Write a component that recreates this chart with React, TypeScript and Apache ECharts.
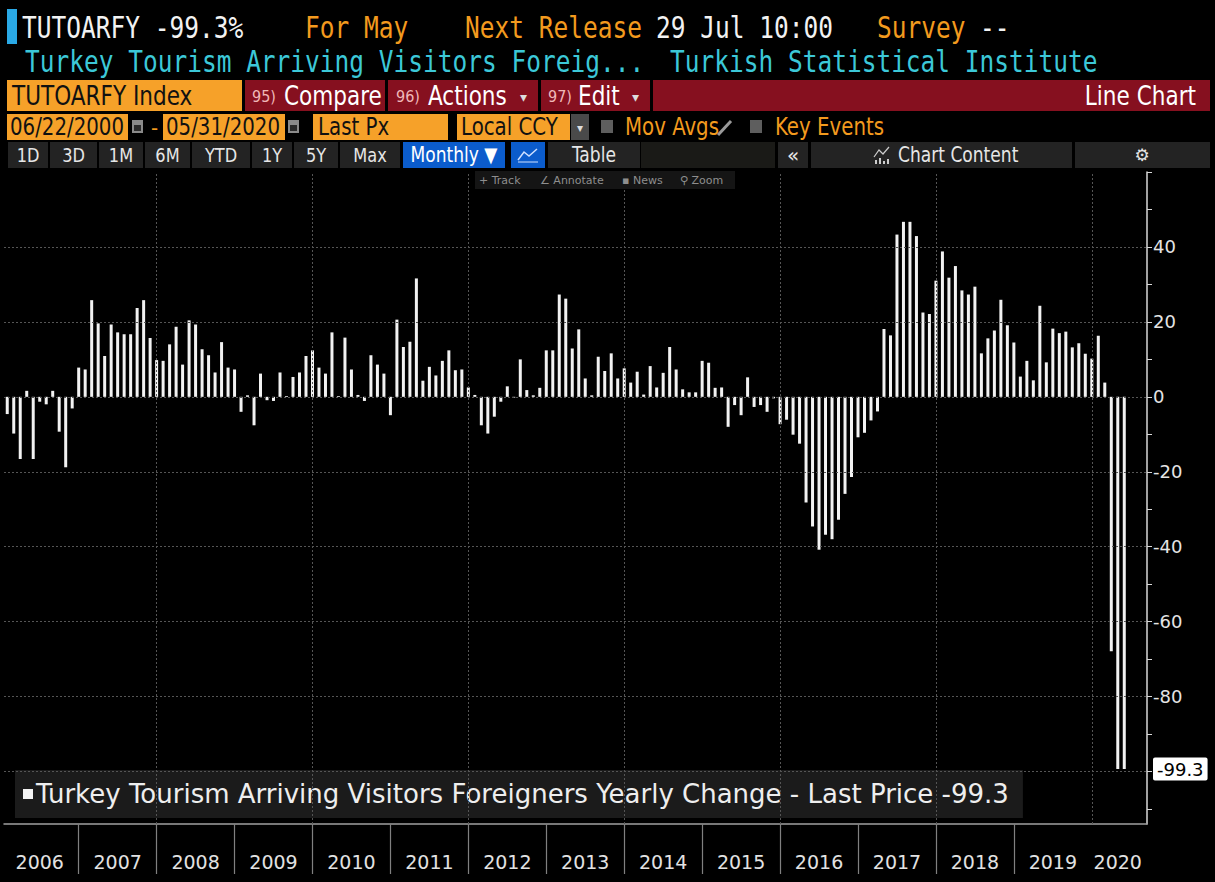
import React, { useEffect, useRef } from 'react';
import * as echarts from 'echarts';

// ---------- data ----------
const years = ['2006', '2007', '2008', '2009', '2010', '2011', '2012', '2013', '2014', '2015', '2016', '2017', '2018', '2019', '2020'];
const v2006 = [-4.6, -9.8, -16.6, 1.6, -16.6, -1.3, -2.0, 1.6, -9.3, -18.8, -3.1, 7.8];
const v2007 = [7.3, 25.8, 19.6, 10.9, 19.3, 17.2, 16.7, 16.7, 23.7, 25.8, 15.7, 9.8];
const v2008 = [9.6, 14.0, 18.7, 8.6, 20.4, 19.3, 12.7, 11.1, 6.5, 14.6, 7.8, 7.3];
const v2009 = [-4.0, 0.4, -7.6, 6.2, -0.9, -1.1, 6.5, 0.2, 5.3, 6.5, 10.9, 12.4];
const v2010 = [7.8, 6.2, 17.2, 0.2, 15.8, 7.3, 0.5, -1.1, 11.1, 8.6, 6.2, -4.9];
const v2011 = [20.6, 13.3, 14.7, 31.6, 4.3, 8.0, 5.7, 9.6, 12.4, 7.1, 7.3, 2.5];
const v2012 = [0.5, -7.6, -9.8, -5.3, -1.3, 2.8, -0.2, 10.0, 1.8, 0.4, 2.4, 12.4];
const v2013 = [12.4, 27.3, 26.2, 12.9, 18.0, 4.9, 0.4, 10.7, 6.9, 11.6, 4.9, 7.6];
const v2014 = [3.8, 6.7, 0.6, 8.2, 2.5, 6.4, 13.3, 7.3, 2.0, 1.2, 1.2, 9.6];
const v2015 = [9.1, 2.4, 2.5, -8.0, -2.2, -4.9, 5.2, -2.7, -2.2, -4.0, -0.4, -7.3];
const v2016 = [-6.1, -10.1, -12.5, -28.2, -34.6, -40.8, -36.8, -38.0, -32.8, -25.9, -21.4, -10.8];
const v2017 = [-9.6, -6.3, -3.9, 18.1, 16.4, 43.3, 46.7, 46.7, 42.9, 22.5, 22.1, 31.0];
const v2018 = [38.8, 31.8, 34.9, 28.4, 27.3, 29.4, 11.6, 15.6, 17.7, 25.9, 19.1, 14.5];
const v2019 = [5.4, 9.6, 4.4, 24.3, 9.2, 18.2, 17.0, 17.4, 13.2, 14.3, 11.5, 10.2];
const v2020 = [16.3, 3.8, -67.9, -99.3, -99.3];
const yearValues = [v2006, v2007, v2008, v2009, v2010, v2011, v2012, v2013, v2014, v2015, v2016, v2017, v2018, v2019, v2020];

const seriesName = 'Turkey Tourism Arriving Visitors Foreigners Yearly Change - Last Price -99.3';
const yLabelValues = [40, 20, 0, -20, -40, -60, -80];
const lastValue = -99.3;
const yGridValues = [40, 20, 0, -20, -40, -60, -80, -100];
const yTickValues = [60, 50, 40, 30, 20, 10, 0, -10, -20, -30, -40, -50, -60, -70, -80, -90, -100, -110];
const gridYears = ['2008', '2010', '2012', '2014', '2016', '2018', '2020'];
const padCategories = [' ', '  ', '   '];

// ---------- derived ----------
const categories: string[] = [];
const values: number[] = [];
yearValues.forEach((arr, yi) => {
  arr.forEach((v, mi) => {
    categories.push(years[yi] + '-' + String(mi + 1).padStart(2, '0'));
    values.push(v);
  });
});
const allCategories = [...categories, ...padCategories];
// year-end (December) entries: bars are stamped at month end
const yearEndIdx = new Set<number>();
categories.forEach((c, i) => { if (c.endsWith('-12')) yearEndIdx.add(i); });
const labelIdx = new Set<number>();
categories.forEach((c, i) => { if (c.endsWith('-06')) labelIdx.add(i); });
labelIdx.add(categories.indexOf('2020-04'));
const vGridCats = gridYears.map((y) => (parseInt(y, 10) - 1) + '-12');

const MONO = '"DejaVu Sans Mono", monospace';
const COND = '"DejaVu Sans Condensed", "Liberation Sans Narrow", "DejaVu Sans", sans-serif';
const UI = '"DejaVu Sans", sans-serif';
const ORANGE = '#f6a129';
const ORANGE_TXT = '#f39a1e';
const CYAN = '#3cc8d8';
const RED = '#86101f';
const BTN = '#232323';

function rect(x: number, y: number, w: number, h: number, fill: string, stroke?: string) {
  return { type: 'rect', silent: true, shape: { x, y, width: w, height: h }, style: { fill, stroke: stroke || 'none', lineWidth: 1 } };
}
function txt(x: number, y: number, t: string, color: string, size: number, family: string, align = 'left', sy = 1) {
  return { type: 'text', silent: true, x, y, scaleY: sy, style: { text: t, fill: color, fontSize: size, fontFamily: family, textAlign: align, textVerticalAlign: 'middle' } };
}

function buildGraphic() {
  const g: any[] = [];
  const H = 1.22;
  // row 1
  g.push(rect(7, 9, 10, 35, '#2aa9e6'));
  g.push(txt(22, 28, 'TUTOARFY -99.3%', '#f2f2f2', 24.5, MONO, 'left', H));
  g.push(txt(305, 28, 'For May', ORANGE_TXT, 24.5, MONO, 'left', H));
  g.push(txt(465, 28, 'Next Release', ORANGE_TXT, 24.5, MONO, 'left', H));
  g.push(txt(656, 28, '29 Jul 10:00', '#f2f2f2', 24.5, MONO, 'left', H));
  g.push(txt(877, 28, 'Survey', ORANGE_TXT, 24.5, MONO, 'left', H));
  g.push(txt(980, 28, '--', '#f2f2f2', 24.5, MONO, 'left', H));
  // row 2
  g.push(txt(25, 62, 'Turkey Tourism Arriving Visitors Foreig...', CYAN, 24.5, MONO, 'left', H));
  g.push(txt(670, 62, 'Turkish Statistical Institute', CYAN, 24.5, MONO, 'left', H));
  // row 3
  g.push(rect(7, 80, 235, 31, ORANGE));
  g.push(txt(12, 96, 'TUTOARFY Index', '#111', 24, COND, 'left', 1.12));
  g.push(rect(245, 80, 140, 31, RED));
  g.push(txt(252, 96, '95)', '#f0b8b8', 16, COND));
  g.push(txt(284, 96, 'Compare', '#ffffff', 24, COND, 'left', 1.12));
  g.push(rect(388, 80, 150, 31, RED));
  g.push(txt(396, 96, '96)', '#f0b8b8', 16, COND));
  g.push(txt(428, 96, 'Actions', '#ffffff', 24, COND, 'left', 1.12));
  g.push(txt(520, 97, '▾', '#dddddd', 14, UI));
  g.push(rect(541, 80, 109, 31, RED));
  g.push(txt(548, 96, '97)', '#f0b8b8', 16, COND));
  g.push(txt(578, 96, 'Edit', '#ffffff', 24, COND, 'left', 1.12));
  g.push(txt(632, 97, '▾', '#dddddd', 14, UI));
  g.push(rect(653, 80, 557, 31, RED));
  g.push(txt(1196, 96, 'Line Chart', '#ffffff', 24, COND, 'right', 1.12));
  // row 4
  g.push(rect(7, 114, 121, 26, ORANGE));
  g.push(txt(10, 127, '06/22/2000', '#111', 22, COND, 'left', 1.1));
  g.push(rect(132, 120, 11, 13, '#8a8a8a'));
  g.push(rect(134, 125, 7, 6, '#2a2a2a'));
  g.push(txt(151, 127, '-', ORANGE_TXT, 22, COND));
  g.push(rect(163, 114, 122, 26, ORANGE));
  g.push(txt(166, 127, '05/31/2020', '#111', 22, COND, 'left', 1.1));
  g.push(rect(288, 120, 11, 13, '#8a8a8a'));
  g.push(rect(290, 125, 7, 6, '#2a2a2a'));
  g.push(rect(313, 114, 135, 26, ORANGE));
  g.push(txt(318, 127, 'Last Px', '#111', 22, COND, 'left', 1.1));
  g.push(rect(457, 114, 113, 26, ORANGE));
  g.push(txt(461, 127, 'Local CCY', '#111', 22, COND, 'left', 1.1));
  g.push(rect(571, 114, 18, 26, '#4a4a4a'));
  g.push(txt(580, 128, '▾', '#dddddd', 12, UI, 'center'));
  g.push(rect(601, 120, 12, 13, '#5e5e5e'));
  g.push(txt(625, 127, 'Mov Avgs', ORANGE_TXT, 22, COND, 'left', 1.1));
  g.push({ type: 'line', silent: true, shape: { x1: 718, y1: 135, x2: 731, y2: 121 }, style: { stroke: '#9a9a9a', lineWidth: 3 } });
  g.push(rect(750, 120, 12, 13, '#5e5e5e'));
  g.push(txt(775, 127, 'Key Events', ORANGE_TXT, 22, COND, 'left', 1.1));
  // row 5
  const btns: [number, number, string][] = [
    [8, 48, '1D'], [50, 97, '3D'], [99, 143, '1M'], [145, 190, '6M'], [192, 250, 'YTD'],
    [252, 292, '1Y'], [294, 338, '5Y'], [340, 400, 'Max'],
  ];
  btns.forEach(([a, b, t]) => {
    g.push(rect(a, 142, b - a, 26, BTN));
    g.push(txt((a + b) / 2, 155, t, '#e6e6e6', 18, COND, 'center', 1.1));
  });
  g.push(rect(403, 142, 102, 26, '#0b5ccc'));
  g.push(txt(454, 155, 'Monthly ▼', '#ffffff', 19, COND, 'center', 1.1));
  g.push(rect(511, 142, 34, 26, '#0b5ccc'));
  g.push({ type: 'polyline', silent: true, shape: { points: [[518, 160], [524, 152], [529, 156], [537, 149]] }, style: { stroke: '#cfe0ff', lineWidth: 1.5, fill: 'none' } });
  g.push({ type: 'line', silent: true, shape: { x1: 518, y1: 162, x2: 538, y2: 162 }, style: { stroke: '#cfe0ff', lineWidth: 1 } });
  g.push(rect(548, 142, 92, 26, BTN));
  g.push(txt(594, 155, 'Table', '#e6e6e6', 19, COND, 'center', 1.1));
  g.push(rect(641, 142, 134, 26, '#1a1a17'));
  g.push(rect(778, 142, 30, 26, BTN));
  g.push(txt(793, 155, '«', '#e6e6e6', 20, UI, 'center'));
  g.push(rect(811, 142, 261, 26, BTN));
  g.push({ type: 'polyline', silent: true, shape: { points: [[874, 157], [879, 150], [883, 154], [889, 147]] }, style: { stroke: '#cccccc', lineWidth: 1.2, fill: 'none' } });
  g.push(rect(875, 160, 2, 4, '#cccccc'));
  g.push(rect(879, 158, 2, 6, '#cccccc'));
  g.push(rect(883, 161, 2, 3, '#cccccc'));
  g.push(rect(887, 159, 2, 5, '#cccccc'));
  g.push(txt(898, 155, 'Chart Content', '#e6e6e6', 19, COND, 'left', 1.1));
  g.push(rect(1075, 142, 135, 26, BTN));
  g.push(txt(1142, 155, '⚙', '#e6e6e6', 17, UI, 'center'));
  // row 6 mini toolbar
  g.push(rect(475, 171, 260, 18, '#151515'));
  g.push(txt(479, 180, '+ Track', '#8e8e8e', 11, UI));
  g.push(txt(540, 180, '∠ Annotate', '#8e8e8e', 11, UI));
  g.push(txt(622, 180, '▪ News', '#8e8e8e', 11, UI));
  g.push(txt(680, 180, '⚲ Zoom', '#8e8e8e', 11, UI));
  return g;
}

export default function App() {
  const ref = useRef<HTMLDivElement>(null);
  useEffect(() => {
    document.body.style.margin = '0';
    document.body.style.background = '#000';
    if (!ref.current) return;
    const chart = echarts.init(ref.current, null, { renderer: 'svg' });
    const option: any = {
      animation: false,
      backgroundColor: '#000000',
      grid: { left: 4, right: 68, top: 172, bottom: 58, containLabel: false },
      legend: {
        data: [seriesName],
        left: 15,
        top: 770,
        icon: 'rect',
        itemWidth: 10,
        itemHeight: 10,
        itemGap: 6,
        selectedMode: false,
        backgroundColor: '#1b1b1b',
        padding: [11, 14, 11, 8],
        textStyle: { color: '#eeeeee', fontSize: 26, fontFamily: UI, padding: [0, 0, 0, -2] },
      },
      xAxis: {
        type: 'category',
        data: allCategories,
        boundaryGap: true,
        axisLine: { show: true, onZero: false, lineStyle: { color: '#a0a0a0', width: 1.5 } },
        axisTick: {
          show: true,
          alignWithLabel: true,
          interval: (i: number) => yearEndIdx.has(i) && i < categories.length - 6,
          length: 50,
          lineStyle: { color: '#808080', width: 1.2 },
        },
        axisLabel: {
          interval: (i: number) => labelIdx.has(i),
          formatter: (v: string) => v.slice(0, 4),
          color: '#e2e2e2',
          fontSize: 19,
          fontFamily: UI,
          margin: 28,
        },
        splitLine: { show: false },
      },
      yAxis: {
        type: 'value',
        position: 'right',
        min: -114,
        max: 60,
        axisLine: { show: true, lineStyle: { color: '#d8d8d8', width: 1.5 } },
        axisTick: { show: true, customValues: yTickValues, length: 5, lineStyle: { color: '#d8d8d8' } },
        axisLabel: {
          customValues: [...yLabelValues, lastValue],
          margin: 6,
          formatter: (v: number) => (Math.abs(v - lastValue) < 0.01 ? '{box|' + lastValue + '}' : '{n|' + v + '}'),
          rich: {
            n: { color: '#e4e4e4', fontSize: 18, fontFamily: UI },
            box: { color: '#000', backgroundColor: '#ffffff', fontSize: 18, fontFamily: UI, padding: [3, 4, 2, 4], borderRadius: 2 },
          },
        },
        splitLine: { show: false },
      },
      series: [
        {
          name: 'grid',
          type: 'line',
          data: [],
          z: 1,
          silent: true,
          markLine: {
            silent: true,
            symbol: 'none',
            label: { show: false },
            lineStyle: { color: '#555555', type: [2, 2], width: 1 },
            data: [
              ...yGridValues.map((v) => ({ yAxis: v })),
              ...vGridCats.map((c) => ({ xAxis: c })),
            ],
          },
        },
        {
          name: seriesName,
          type: 'bar',
          data: values,
          barWidth: 3,
          z: 3,
          itemStyle: { color: '#f2f2f2' },
        },
      ],
      graphic: { elements: buildGraphic().map((e) => ({ ...e, z: 100 })) },
    };
    chart.setOption(option);
    return () => chart.dispose();
  }, []);
  return <div ref={ref} style={{ width: 1215, height: 882, background: '#000' }} />;
}
